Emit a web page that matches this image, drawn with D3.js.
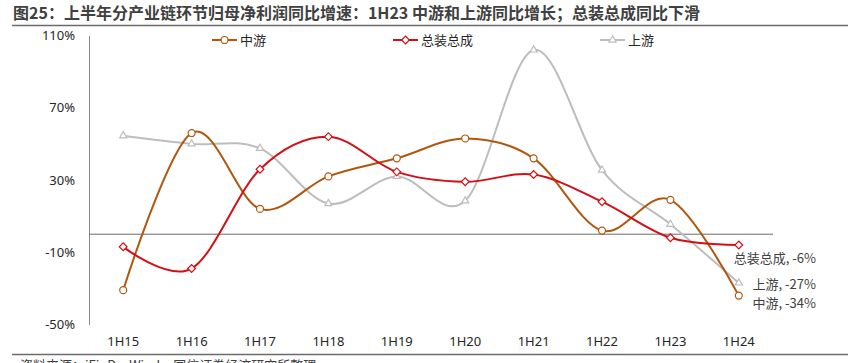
<!DOCTYPE html>
<html>
<head>
<meta charset="utf-8">
<script src="https://cdn.jsdelivr.net/npm/d3@7"></script>
<style>
  body { margin: 0; background: #fff; }
  svg text { font-family: "Noto Sans CJK SC", "Noto Sans", sans-serif; }
</style>
</head>
<body>
<script>
// chart data
const categories = ["1H15", "1H16", "1H17", "1H18", "1H19", "1H20", "1H21", "1H22", "1H23", "1H24"];
const midstream = [-31, 56, 14, 32, 42, 53, 42, 2, 19, -34];     // 中游
const assembly = [-7, -19, 36, 54, 34.5, 29, 33, 18, -2, -6];     // 总装总成
const upstream = [54.5, 50, 47.5, 17, 32, 18.5, 102, 35.5, 5.5, -27]; // 上游
const yTicks = [110, 70, 30, -10, -50];

const width = 864, height = 363;

const svg = d3.select("body").append("svg")
  .attr("width", width)
  .attr("height", height);

// title
svg.append("text")
  .attr("x", 13).attr("y", 19)
  .attr("font-size", 16).attr("font-weight", "bold")
  .attr("fill", "#404040")
  .text("图25：上半年分产业链环节归母净利润同比增速：1H23 中游和上游同比增长；总装总成同比下滑");

svg.append("line")
  .attr("x1", 12).attr("x2", 848).attr("y1", 25.5).attr("y2", 25.5)
  .attr("stroke", "#6b6b6b").attr("stroke-width", 1.5);

svg.append("line")
  .attr("x1", 12).attr("x2", 848).attr("y1", 354.5).attr("y2", 354.5)
  .attr("stroke", "#6b6b6b").attr("stroke-width", 1.5);

// source line, mostly cut off by the bottom edge
svg.append("text")
  .attr("x", 20).attr("y", 370)
  .attr("font-size", 13).attr("fill", "#404040")
  .text("资料来源：iFinD，Wind，国信证券经济研究所整理");

// scales
const xScale = d3.scaleBand()
  .domain(categories)
  .range([89, 773]);

const yScale = d3.scaleLinear()
  .domain([-50, 110])
  .range([324.5, 35.5]);

const xc = d => xScale(d) + xScale.bandwidth() / 2;

// y axis
const yAxis = svg.append("g")
  .attr("transform", "translate(89,0)")
  .call(d3.axisLeft(yScale).tickValues(yTicks).tickSize(0).tickPadding(14)
    .tickFormat(d => d + "%"));
yAxis.select(".domain").attr("stroke", "#8c8c8c").attr("stroke-width", 1);
yAxis.selectAll("text")
  .attr("font-size", 13).attr("fill", "#262626")
  .style("font-family", "'Noto Sans', sans-serif");

// zero line
svg.append("line")
  .attr("x1", 89).attr("x2", 773)
  .attr("y1", yScale(0)).attr("y2", yScale(0))
  .attr("stroke", "#6b6b6b").attr("stroke-width", 1);

// x axis labels
const xAxis = svg.append("g")
  .attr("transform", "translate(0,335)")
  .call(d3.axisBottom(xScale).tickSize(0).tickPadding(2));
xAxis.select(".domain").remove();
xAxis.selectAll("text")
  .attr("font-size", 13).attr("fill", "#262626")
  .style("font-family", "'Noto Sans', sans-serif");

const series = [
  { name: "中游", values: midstream, color: "#B0570E", marker: "circle" },
  { name: "总装总成", values: assembly, color: "#D40F14", marker: "diamond" },
  { name: "上游", values: upstream, color: "#BDBDBD", marker: "triangle" }
];

const markerPath = {
  circle: d3.symbol(d3.symbolCircle, 38),
  diamond: d3.symbol(d3.symbolSquare, 30),
  triangle: d3.symbol(d3.symbolTriangle, 22)
};

const line = d3.line()
  .x((d, i) => xc(categories[i]))
  .y(d => yScale(d))
  .curve(d3.curveCardinal.tension(0));

// draw upstream first so it sits beneath the others
[series[2], series[0], series[1]].forEach(s => {
  svg.append("path")
    .datum(s.values)
    .attr("fill", "none")
    .attr("stroke", s.color)
    .attr("stroke-width", 2)
    .attr("d", line);

  svg.selectAll(null)
    .data(s.values)
    .enter()
    .append("path")
    .attr("d", markerPath[s.marker])
    .attr("transform", (d, i) => "translate(" + xc(categories[i]) + "," + yScale(d) + ")" +
      (s.marker === "diamond" ? " rotate(45)" : ""))
    .attr("fill", "#fff")
    .attr("stroke", s.color)
    .attr("stroke-width", 1.2);
});

// legend
const legendPos = [212, 393, 600];
series.forEach((s, i) => {
  const g = svg.append("g").attr("transform", "translate(" + legendPos[i] + ",40)");
  g.append("line").attr("x1", 0).attr("x2", 25)
    .attr("stroke", s.color).attr("stroke-width", 2);
  g.append("path")
    .attr("d", markerPath[s.marker])
    .attr("transform", "translate(12.5,0)" + (s.marker === "diamond" ? " rotate(45)" : ""))
    .attr("fill", "#fff").attr("stroke", s.color).attr("stroke-width", 1.2);
  g.append("text")
    .attr("x", 28).attr("y", 0).attr("dy", "0.36em")
    .attr("font-size", 13).attr("fill", "#262626")
    .text(s.name);
});

// end labels
const endLabels = [
  { text: "总装总成, -6%", y: 258 },
  { text: "上游, -27%", y: 284 },
  { text: "中游, -34%", y: 303 }
];
svg.selectAll(null)
  .data(endLabels)
  .enter()
  .append("text")
  .attr("x", 816)
  .attr("y", d => d.y)
  .attr("dy", "0.36em")
  .attr("text-anchor", "end")
  .attr("font-size", 13)
  .attr("fill", "#404040")
  .text(d => d.text);
</script>
</body>
</html>
